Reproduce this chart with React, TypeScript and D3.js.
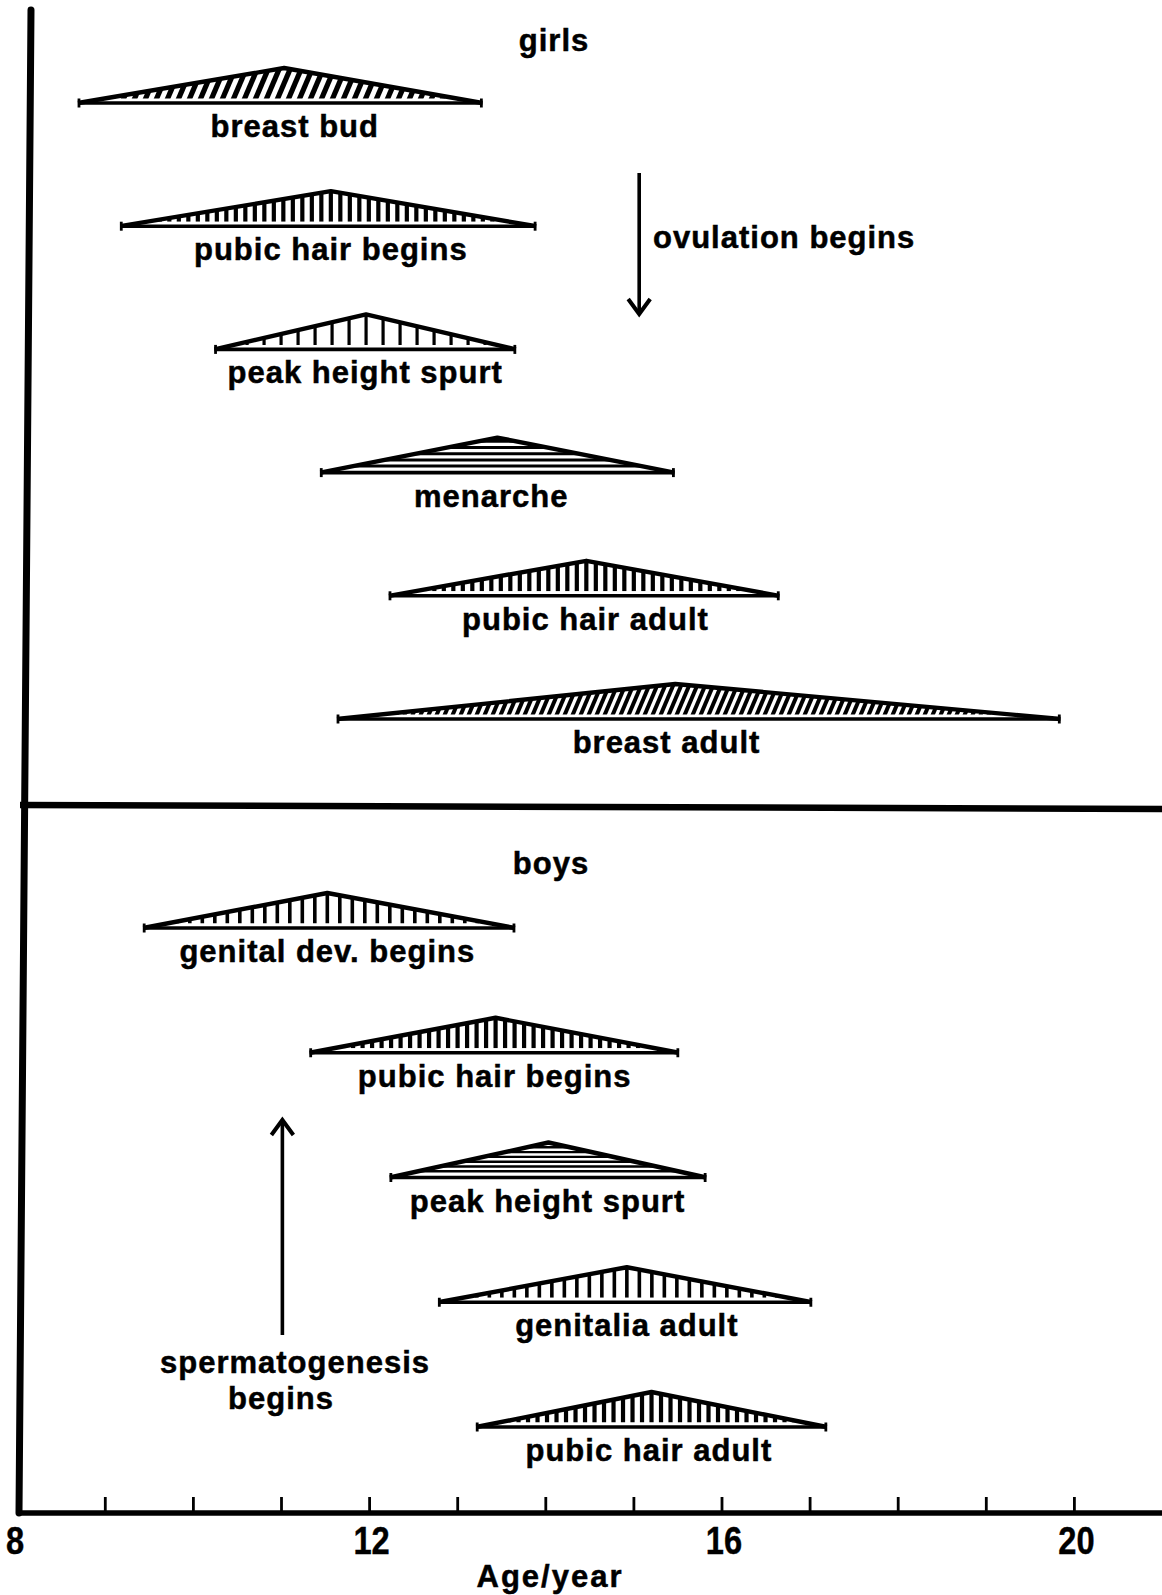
import React from "react";
import * as d3 from "d3";

// ---------- data (ages in years) ----------
const girlsLabels = ["breast bud", "pubic hair begins", "peak height spurt", "menarche", "pubic hair adult", "breast adult"];
const girlsStart = [8.69, 9.17, 10.24, 11.44, 12.22, 11.63];
const girlsPeak = [11.03, 11.56, 11.96, 13.45, 14.46, 15.47];
const girlsEnd = [13.28, 13.89, 13.66, 15.46, 16.65, 19.84];
const girlsLabelAt = [11.15, 11.56, 11.95, 13.38, 14.45, 15.37];

const boysLabels = ["genital dev. begins", "pubic hair begins", "peak height spurt", "genitalia adult", "pubic hair adult"];
const boysStart = [9.43, 11.32, 12.23, 12.78, 13.21];
const boysPeak = [11.52, 13.43, 14.03, 14.92, 15.2];
const boysEnd = [13.65, 15.51, 15.82, 17.02, 17.19];
const boysLabelAt = [11.52, 13.42, 14.02, 14.92, 15.17];

const ovulationAge = 15.06;
const spermatogenesisAge = 11.01;

const minorTicks = [9, 10, 11, 12, 13, 14, 15, 16, 17, 18, 19, 20];
const tickLabels = [8, 12, 16, 20];

// ---------- styles ----------
const girlsHatch = ["diag", "vert", "vertWide", "horiz", "vert", "diagFine"];
const boysHatch = ["vertMed", "vert", "horizFine", "vertMed", "vert"];

const HATCH: Record<string, { kind: string; step: number; w: number; slant?: number }> = {
  diag: { kind: "diag", step: 11, w: 5.2, slant: 0.42 },
  diagFine: { kind: "diag", step: 8, w: 4, slant: 0.42 },
  vert: { kind: "vert", step: 9.5, w: 4.2 },
  vertMed: { kind: "vert", step: 12.5, w: 3.6 },
  vertWide: { kind: "vert", step: 17, w: 3.2 },
  horiz: { kind: "horiz", step: 6.2, w: 3 },
  horizFine: { kind: "horiz", step: 4.8, w: 2.4 },
};

const W = 1162;
const H = 1595;
const FONT = "'Liberation Sans', Arial, Helvetica, sans-serif";

const x = d3.scaleLinear().domain([8, 21]).range([17.2, 17.2 + 88.1 * 13]);
const yGirls = d3.scalePoint<string>().domain(girlsLabels).range([103, 719]);
const yBoys = d3.scalePoint<string>().domain(boysLabels).range([928, 1427]);
const TRI_H = 35;
const AXIS_Y = 1513;

type Tri = { id: string; label: string; s: number; p: number; e: number; la: number; base: number; hatch: string };

const txt = { fontSize: 31, fontWeight: "bold" as const, letterSpacing: 1, fontFamily: FONT, stroke: "#000", strokeWidth: 0.5 };

function Triangle({ t }: { t: Tri }) {
  const x0 = x(t.s);
  const xp = x(t.p);
  const x1 = x(t.e);
  const yb = t.base;
  const yp = yb - TRI_H;
  const gap = 4.5;
  const yc = yb - gap;
  const xL = x0 + (xp - x0) * (gap / TRI_H);
  const xR = x1 - (x1 - xp) * (gap / TRI_H);
  const line = d3.line();
  const clip = line([[xL, yc], [xp, yp], [xR, yc]]) + "Z";
  const hs = HATCH[t.hatch];
  let hatchLines: [number, number, number, number][] = [];
  if (hs.kind === "vert") {
    hatchLines = d3.range(xp, xL, -hs.step).concat(d3.range(xp + hs.step, xR, hs.step)).map((v) => [v, yc, v, yp - 2] as [number, number, number, number]);
  } else if (hs.kind === "diag") {
    const dx = (hs.slant || 0.4) * TRI_H;
    hatchLines = d3.range(xp, x0 - dx, -hs.step).concat(d3.range(xp + hs.step, x1 + dx, hs.step)).map((v) => [v - dx / 2, yc + 2, v + dx / 2, yp - 2] as [number, number, number, number]);
  } else {
    hatchLines = d3.range(yc - hs.w / 2 - 0.5, yp, -hs.step).map((v) => [xL - 2, v, xR + 2, v] as [number, number, number, number]);
  }
  return (
    <g>
      <defs>
        <clipPath id={`clip-${t.id}`}>
          <path d={clip} />
        </clipPath>
      </defs>
      <path d={line([[x0, yb], [xp, yp], [x1, yb]]) + "Z"} fill="#fff" stroke="none" />
      <g clipPath={`url(#clip-${t.id})`}>
        {hatchLines.map((l, i) => (
          <line key={i} x1={l[0]} y1={l[1]} x2={l[2]} y2={l[3]} stroke="#000" strokeWidth={hs.w} />
        ))}
      </g>
      <path d={line([[x0, yb], [xp, yp], [x1, yb]]) || ""} fill="none" stroke="#000" strokeWidth={4.4} strokeLinejoin="round" />
      <line x1={x0} y1={yb} x2={x1} y2={yb} stroke="#000" strokeWidth={3.6} />
      <line x1={x0 + 1} y1={yb - 4.5} x2={x0 + 1} y2={yb + 4.5} stroke="#000" strokeWidth={2.8} />
      <line x1={x1 - 1} y1={yb - 4.5} x2={x1 - 1} y2={yb + 4.5} stroke="#000" strokeWidth={2.8} />
      <text x={x(t.la)} y={yb + 34} textAnchor="middle" {...txt}>
        {t.label}
      </text>
    </g>
  );
}

export default function App() {
  const girls: Tri[] = girlsLabels.map((l, i) => ({
    id: `g${i}`, label: l, s: girlsStart[i], p: girlsPeak[i], e: girlsEnd[i], la: girlsLabelAt[i], base: yGirls(l) as number, hatch: girlsHatch[i],
  }));
  const boys: Tri[] = boysLabels.map((l, i) => ({
    id: `b${i}`, label: l, s: boysStart[i], p: boysPeak[i], e: boysEnd[i], la: boysLabelAt[i], base: yBoys(l) as number, hatch: boysHatch[i],
  }));
  const ox = x(ovulationAge);
  const sx = x(spermatogenesisAge);
  return (
    <svg width={W} height={H} style={{ position: "absolute", left: 0, top: 0, background: "#fff" }} xmlns="http://www.w3.org/2000/svg">
      <rect x={0} y={0} width={W} height={H} fill="#fff" />
      {/* frame */}
      <line x1={31} y1={10} x2={19} y2={AXIS_Y} stroke="#000" strokeWidth={7} strokeLinecap="round" />
      <line x1={20} y1={805} x2={W} y2={809} stroke="#000" strokeWidth={6.5} />
      <line x1={17} y1={AXIS_Y} x2={W} y2={AXIS_Y} stroke="#000" strokeWidth={5.5} />
      {minorTicks.map((a) => (
        <line key={a} x1={x(a)} y1={AXIS_Y} x2={x(a)} y2={AXIS_Y - 16} stroke="#000" strokeWidth={2.8} />
      ))}
      {tickLabels.map((a) => (
        <text key={a} transform={`translate(${x(a) - (a === 8 ? 2 : -2)},1554) scale(0.86,1)`} textAnchor="middle" fontSize={38} fontWeight="bold" fontFamily={FONT} stroke="#000" strokeWidth={0.4}>
          {a}
        </text>
      ))}
      <text x={550} y={1587} textAnchor="middle" {...txt} fontSize={31} letterSpacing={2}>
        Age/year
      </text>

      <text x={554} y={51} textAnchor="middle" {...txt}>girls</text>
      <text x={551} y={874} textAnchor="middle" {...txt}>boys</text>

      {girls.map((t) => <Triangle key={t.id} t={t} />)}
      {boys.map((t) => <Triangle key={t.id} t={t} />)}

      {/* ovulation arrow */}
      <line x1={ox} y1={173} x2={ox} y2={313} stroke="#000" strokeWidth={3.6} />
      <path d={`M${ox - 11},${299} L${ox},${314} L${ox + 11},${299}`} fill="none" stroke="#000" strokeWidth={4} strokeLinejoin="miter" />
      <text x={653} y={248} {...txt}>ovulation begins</text>

      {/* spermatogenesis arrow */}
      <line x1={sx} y1={1335} x2={sx} y2={1122} stroke="#000" strokeWidth={3.6} />
      <path d={`M${sx - 11},${1135} L${sx},${1120} L${sx + 11},${1135}`} fill="none" stroke="#000" strokeWidth={4} />
      <text x={295} y={1373} textAnchor="middle" {...txt}>spermatogenesis</text>
      <text x={281} y={1409} textAnchor="middle" {...txt}>begins</text>
    </svg>
  );
}
